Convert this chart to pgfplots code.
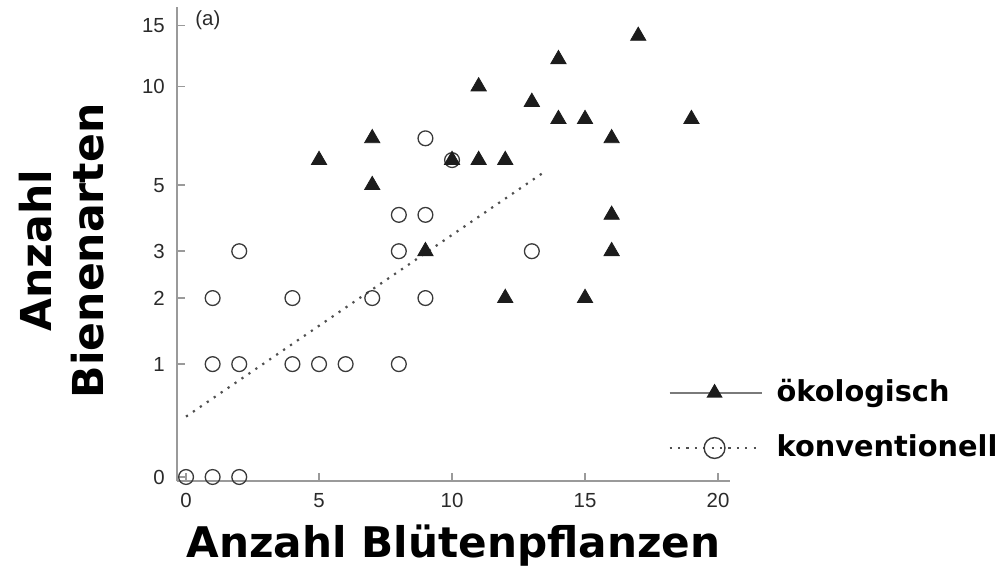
\documentclass[border=0pt]{standalone}
\usepackage{pgfplots}
\pgfplotsset{compat=1.18}
\usepackage{pgfplotstable}
\usepackage{fontspec}
\setmainfont{Liberation Sans}
\newfontfamily\labelfont{DejaVu Sans}
\usetikzlibrary{calc}
\definecolor{axgray}{HTML}{9A9A9A}
\definecolor{txtgray}{HTML}{2A2A2A}
\definecolor{markdark}{HTML}{1C1C1C}
\definecolor{circ}{HTML}{3A3A3A}
\definecolor{fitgray}{HTML}{505050}
\definecolor{leggray}{HTML}{7A7A7A}

\pgfplotstableread{
x y
5 6
7 7
7 5
9 3
10 6
11 10
11 6
12 6
12 2
13 9
14 12
14 8
15 8
15 2
16 7
16 4
16 3
17 14
19 8
}\oeko

\pgfplotstableread{
x y
0 0
1 0
2 0
1 2
1 1
2 1
2 3
4 2
4 1
5 1
6 1
7 2
8 4
8 3
8 1
9 7
9 4
9 2
10 6
13 3
}\konv

\pgfplotstableread{
x y
0 0.449
13.52 5.546
}\fit

\begin{document}
\begin{tikzpicture}
\path[use as bounding box] (-88.5pt,-43.5pt) rectangle (414pt,240.5pt);
\begin{axis}[
  at={(0,0)}, anchor=south west,
  scale only axis, width=276.5pt, height=237pt,
  xmin=-0.34, xmax=20.45,
  ymode=log, ymin=0.9757, ymax=17.92,
  axis x line*=bottom, axis y line*=left,
  axis line style={axgray, line width=1pt},
  xtick={0,5,10,15,20},
  ytick={1,2,3,4,6,11,16},
  yticklabels={0,1,2,3,5,10,15},
  yminorticks=false,
  tick align=inside, major tick length=4pt,
  tick style={axgray, line width=0.8pt},
  ticklabel style={font=\fontsize{10.2}{12}\selectfont, text=txtgray},
  yticklabel style={xshift=-2.6pt},
  xticklabel style={yshift=-2.6pt},
  /pgf/number format/assume math mode=true,
  xlabel={Anzahl Blütenpflanzen},
  ylabel={Anzahl\\Bienenarten},
  every axis x label/.style={at={(axis description cs:0.5,0)}, anchor=base, yshift=-38.2pt, font=\labelfont\bfseries\fontsize{21.1}{26}\selectfont},
  every axis y label/.style={at={($(axis description cs:0,0.494)+(-36pt,0)$)}, rotate=90, anchor=south, align=center, inner sep=0pt, font=\labelfont\bfseries\fontsize{21.3}{26}\selectfont},
  legend image code/.code={\draw[mark repeat=2,mark phase=2,#1] plot coordinates {(0pt,0pt) (22.5pt,0pt) (46pt,0pt)};},
  legend style={at={(axis description cs:0.888,0.1276)}, anchor=west, draw=none, fill=none, inner sep=0pt,
    font=\labelfont\bfseries\fontsize{14.4}{17}\selectfont,
    row sep=13.5pt,
    nodes={inner sep=0pt, text height=11pt, text depth=3pt},
    /tikz/every odd column/.append style={column sep=7pt}},
  legend cell align=left,
  clip=false,
]
\addplot[fitgray, line width=1.1pt, dash pattern=on 1.1pt off 3.1pt, forget plot] table[x=x, y expr=\thisrow{y}+1] {\fit};
\addplot[only marks, mark=o, mark size=3.7pt, mark options={draw=circ, line width=0.65pt, fill=none}, forget plot] table[x=x, y expr=\thisrow{y}+1] {\konv};
\addplot[only marks, mark=triangle*, mark size=4.4pt, mark options={draw=markdark, fill=markdark}, forget plot] table[x=x, y expr=\thisrow{y}+1] {\oeko};
\addlegendimage{leggray, line width=0.8pt, mark=triangle*, mark size=3.9pt, mark options={draw=markdark, fill=markdark, solid}}
\addlegendentry{ökologisch}
\addlegendimage{fitgray, line width=1.1pt, dash pattern=on 1.1pt off 3.1pt, mark=o, mark size=5.2pt, mark options={draw=circ, line width=0.7pt, solid}}
\addlegendentry{konventionell}
\node[anchor=west, font=\fontsize{10.2}{12}\selectfont, text=txtgray, inner sep=0pt] at (axis description cs:0.0326,0.9726) {(a)};
\end{axis}
\end{tikzpicture}
\end{document}
